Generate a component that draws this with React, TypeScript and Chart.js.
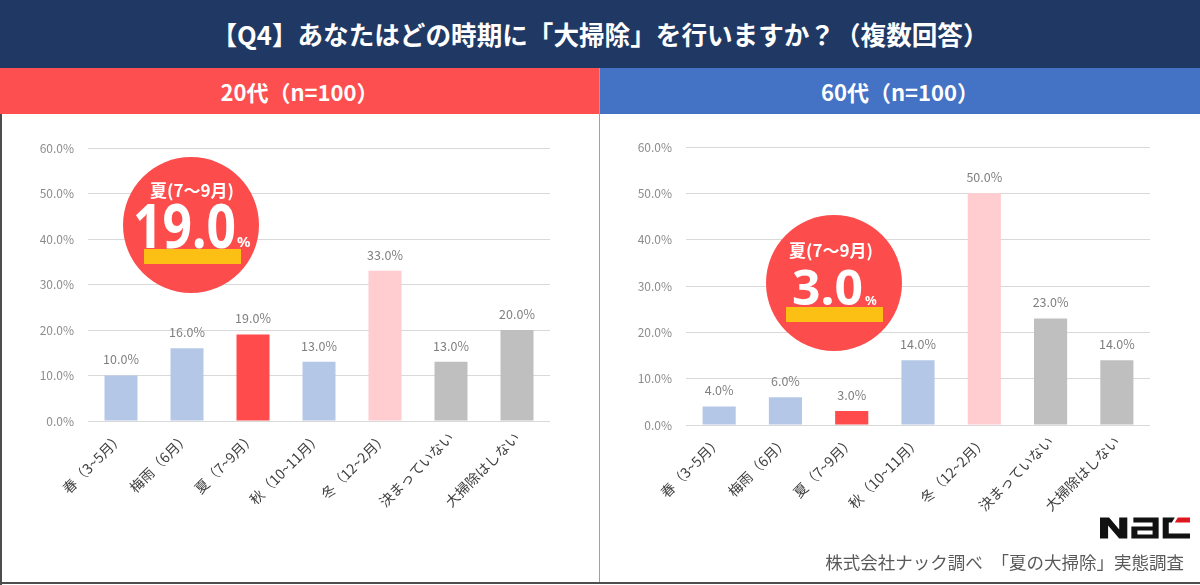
import React, { useEffect, useRef } from "react";
import { Chart, registerables } from "chart.js";

Chart.register(...registerables);

const categories = [
  "春（3~5月）",
  "梅雨（6月）",
  "夏（7~9月）",
  "秋（10~11月）",
  "冬（12~2月）",
  "決まっていない",
  "大掃除はしない",
];
const values20s = [10, 16, 19, 13, 33, 13, 20];
const values60s = [4, 6, 3, 14, 50, 23, 14];
const barColors = ["#b4c7e7", "#b4c7e7", "#ff4b4b", "#b4c7e7", "#ffccd0", "#bfbfbf", "#bfbfbf"];
const yTicks = [0, 10, 20, 30, 40, 50, 60];
const highlightIndex = 2;
const highlightLabel = "夏(7〜9月)";

const JP = '"Noto Sans CJK JP", "Noto Sans", sans-serif';

type Callout = {
  cx: number; cy: number; r: number;
  titleX: number; titleY: number;
  numLeft: number; numRight: number; numBase: number; numSize: number;
  pctX: number; pctBase: number; pctSize: number;
  barX: number; barY: number; barW: number; barH: number;
};

type PanelProps = {
  values: number[];
  width: number; height: number;
  padTop: number; padRight: number; yWidth: number; xHeight: number;
  callout: Callout;
  left: number; top: number;
};

function BarPanel(p: PanelProps) {
  const ref = useRef<HTMLCanvasElement>(null);
  useEffect(() => {
    const canvas = ref.current!;
    const values = p.values;
    const valueLabels = {
      id: "valueLabels",
      afterDatasetsDraw(chart: any) {
        const ctx = chart.ctx;
        const meta = chart.getDatasetMeta(0);
        ctx.save();
        ctx.font = `12.5px ${JP}`;
        ctx.fillStyle = "#7f7f7f";
        ctx.textAlign = "center";
        ctx.textBaseline = "middle";
        meta.data.forEach((bar: any, i: number) => {
          ctx.fillText(`${values[i].toFixed(1)}%`, bar.x, bar.y - 16);
        });
        ctx.restore();
      },
    };
    const calloutPlugin = {
      id: "callout",
      afterDraw(chart: any) {
        const ctx = chart.ctx;
        const c = p.callout;
        ctx.save();
        ctx.fillStyle = "#fd4c4c";
        ctx.beginPath();
        ctx.arc(c.cx, c.cy, c.r, 0, Math.PI * 2);
        ctx.fill();
        ctx.fillStyle = "#fcbf14";
        ctx.fillRect(c.barX, c.barY, c.barW, c.barH);
        ctx.fillStyle = "#ffffff";
        ctx.textAlign = "center";
        ctx.textBaseline = "middle";
        ctx.font = `bold 17px ${JP}`;
        ctx.fillText(highlightLabel, c.titleX, c.titleY);
        const num = values[highlightIndex].toFixed(1);
        ctx.font = `bold ${c.numSize}px "Noto Sans", sans-serif`;
        const w = ctx.measureText(num).width;
        ctx.textAlign = "left";
        ctx.textBaseline = "alphabetic";
        ctx.save();
        ctx.translate(c.numLeft, c.numBase);
        ctx.scale((c.numRight - c.numLeft) / w, 1);
        ctx.fillText(num, 0, 0);
        ctx.restore();
        ctx.font = `bold ${c.pctSize}px "Noto Sans", sans-serif`;
        ctx.fillText("%", c.pctX, c.pctBase);
        ctx.restore();
      },
    };
    const chart = new Chart(canvas, {
      type: "bar",
      data: {
        labels: categories,
        datasets: [
          {
            data: values,
            backgroundColor: barColors,
            barPercentage: 0.5,
            categoryPercentage: 1,
          },
        ],
      },
      options: {
        responsive: false,
        animation: false,
        layout: { padding: { top: p.padTop, right: p.padRight, left: 0, bottom: 0 } },
        plugins: { legend: { display: false }, tooltip: { enabled: false } },
        scales: {
          x: {
            grid: { display: false },
            border: { display: false },
            ticks: {
              autoSkip: false,
              minRotation: 45,
              maxRotation: 45,
              padding: 0,
              color: "#404040",
              font: { family: JP, size: 14 },
            },
            afterFit: (s: any) => {
              s.height = p.xHeight;
            },
          },
          y: {
            min: 0,
            max: 60,
            grid: { color: "#d9d9d9", drawTicks: false },
            border: { display: false },
            afterBuildTicks: (s: any) => {
              s.ticks = yTicks.map((v) => ({ value: v }));
            },
            ticks: {
              padding: 14,
              color: "#8c8c8c",
              font: { family: JP, size: 12 },
              callback: (v: any) => `${Number(v).toFixed(1)}%`,
            },
            afterFit: (s: any) => {
              s.width = p.yWidth;
            },
          },
        },
      } as any,
      plugins: [valueLabels, calloutPlugin],
    });
    return () => chart.destroy();
  }, []);
  return (
    <canvas
      ref={ref}
      width={p.width}
      height={p.height}
      style={{ position: "absolute", left: p.left, top: p.top, width: p.width, height: p.height, display: "block" }}
    />
  );
}

const abs = (s: React.CSSProperties): React.CSSProperties => ({ position: "absolute", ...s });

export default function App() {
  return (
    <div
      style={{
        position: "fixed",
        left: 0,
        top: 0,
        width: 1200,
        height: 585,
        background: "#ffffff",
        overflow: "hidden",
        fontFamily: JP,
      }}
    >
      <div
        style={abs({
          left: 0, top: 0, width: 1200, height: 68, background: "#203864", color: "#fff",
          fontWeight: 700, fontSize: 25.6, lineHeight: "68px", textAlign: "center",
        })}
      >
        【Q4】あなたはどの時期に「大掃除」を行いますか？（複数回答）
      </div>
      <div
        style={abs({
          left: 0, top: 68, width: 599, height: 46, background: "#fd4f4f", color: "#fff",
          fontWeight: 700, fontSize: 22, lineHeight: "46px", textAlign: "center",
        })}
      >
        20代（n=100）
      </div>
      <div
        style={abs({
          left: 600, top: 68, width: 600, height: 46, background: "#4472c4", color: "#fff",
          fontWeight: 700, fontSize: 22, lineHeight: "46px", textAlign: "center",
        })}
      >
        60代（n=100）
      </div>

      <BarPanel
        values={values20s}
        left={0} top={114} width={598} height={469}
        padTop={34} padRight={48} yWidth={88} xHeight={162}
        callout={{
          cx: 191, cy: 111, r: 68,
          titleX: 192, titleY: 77,
          numLeft: 133, numRight: 236, numBase: 134, numSize: 61,
          pctX: 237, pctBase: 133, pctSize: 15,
          barX: 144, barY: 135, barW: 97, barH: 15,
        }}
      />
      <BarPanel
        values={values60s}
        left={600} top={114} width={600} height={469}
        padTop={33} padRight={50} yWidth={86} xHeight={158}
        callout={{
          cx: 234, cy: 169, r: 68,
          titleX: 231, titleY: 137,
          numLeft: 192, numRight: 263, numBase: 191, numSize: 49,
          pctX: 265, pctBase: 191, pctSize: 13,
          barX: 186, barY: 193, barW: 97, barH: 15,
        }}
      />

      <div style={abs({ left: 599, top: 68, width: 1, height: 515, background: "#a0a0a0" })} />
      <div style={abs({ left: 0, top: 114, width: 2, height: 471, background: "#4d4d4d" })} />
      <div style={abs({ left: 0, top: 582, width: 1200, height: 2, background: "#4d4d4d" })} />

      <svg style={abs({ left: 1100, top: 517 })} width={90} height={22} viewBox="0 0 89 21">
        <polygon points="0,21 0,0 9,0 19,12 19,0 27,0 27,21 19,21 8,8 8,21" fill="#111" />
        <path
          d="M33,0 H58 V21 H31 V9 H52 V5 H33 Z M37,13 V17 H52 V13 Z"
          fill="#111"
          fillRule="evenodd"
        />
        <path d="M62,0 H74 L71,5 H68 V16 H89 V21 H62 Z" fill="#111" />
        <polygon points="77,0 89,0 89,5 74,5" fill="#e0161e" />
      </svg>
      <div
        style={abs({
          right: 16, top: 551, fontSize: 17.5, color: "#595959", whiteSpace: "nowrap", lineHeight: "22px",
        })}
      >
        株式会社ナック調べ　「夏の大掃除」実態調査
      </div>
    </div>
  );
}
